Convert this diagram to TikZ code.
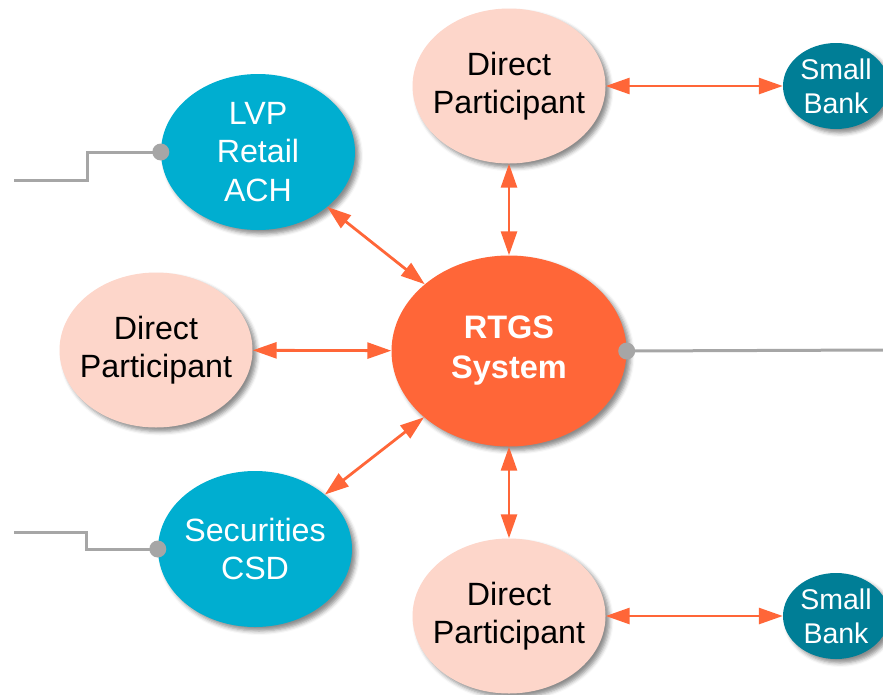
\documentclass[tikz,border=0pt]{standalone}
\usepackage{fontspec}
\setmainfont{Liberation Sans}
\usetikzlibrary{shapes.geometric,arrows.meta,shadows.blur}
\definecolor{rtgsorange}{RGB}{255,102,56}
\definecolor{peach}{RGB}{253,214,202}
\definecolor{cyanblue}{RGB}{0,174,208}
\definecolor{tealbank}{RGB}{0,126,150}
\definecolor{wiregray}{RGB}{166,166,166}
\begin{document}
\begin{tikzpicture}[x=1pt,y=-1pt,
  bubble/.style={ellipse, inner sep=0pt,
    blur shadow={shadow xshift=4pt, shadow yshift=-4pt, shadow blur radius=4pt, shadow opacity=45}},
  core/.style={bubble, fill=rtgsorange, minimum width=235pt, minimum height=191pt,
    label={[text=white, align=center, font=\fontsize{32.5}{40}\selectfont\bfseries]center:#1}},
  participant/.style={bubble, fill=peach, minimum width=193pt, minimum height=155pt,
    label={[text=black, align=center, font=\fontsize{32.2}{38}\selectfont]center:#1}},
  infra/.style={bubble, fill=cyanblue, minimum width=194pt, minimum height=156pt,
    label={[text=white, align=center, font=\fontsize{32.2}{38.5}\selectfont]center:#1}},
  bank/.style={bubble, fill=tealbank, minimum width=106pt, minimum height=86pt,
    label={[text=white, align=center, font=\fontsize{28.5}{34}\selectfont]center:#1}},
  biarrow/.style={draw=rtgsorange, line width=2.8pt,
    {Triangle[length=24pt,width=16pt]}-{Triangle[length=24pt,width=16pt]}},
  wire/.style={draw=wiregray, line width=3pt},
  dot/.style={circle, fill=wiregray, inner sep=0pt, minimum size=17pt}
]
\clip (0,0) rectangle (883,694);

% loose ends of the feed lines
\coordinate (feedA) at (14,180);
\coordinate (feedB) at (14,532);
\coordinate (feedC) at (883,350);

% bubbles
\node[core={RTGS\\System}] (rtgs) at (509,351) {};
\node[participant={Direct\\Participant}] (dptop) at (509,86) {};
\node[participant={Direct\\Participant}] (dpleft) at (156,350) {};
\node[participant={Direct\\Participant}] (dpbot) at (509,616) {};
\node[infra={LVP\\Retail\\ACH}] (lvp) at (258,152) {};
\node[infra={Securities\\CSD}] (sec) at (255,549) {};
\node[bank={Small\\Bank}] (banktop) at (836,86) {};
\node[bank={Small\\Bank}] (bankbot) at (836,616) {};

% gray links
\draw[wire] (feedA) -- (87,180) |- (lvp.west);
\draw[wire] (feedB) -- (86,532) |- (sec.west);
\draw[wire] (rtgs.east) -- (feedC);
\node[dot] (dotA) at (lvp.west) {};
\node[dot] (dotB) at (sec.west) {};
\node[dot] (dotC) at (rtgs.east) {};

% two-way flows
\draw[biarrow] (dptop) -- (rtgs);
\draw[biarrow] (dpbot) -- (rtgs);
\draw[biarrow] (dpleft) -- (rtgs);
\draw[biarrow] (lvp) -- (rtgs);
\draw[biarrow] (sec) -- (rtgs);
\draw[biarrow] (dptop) -- (banktop);
\draw[biarrow] (dpbot) -- (bankbot);
\end{tikzpicture}
\end{document}
